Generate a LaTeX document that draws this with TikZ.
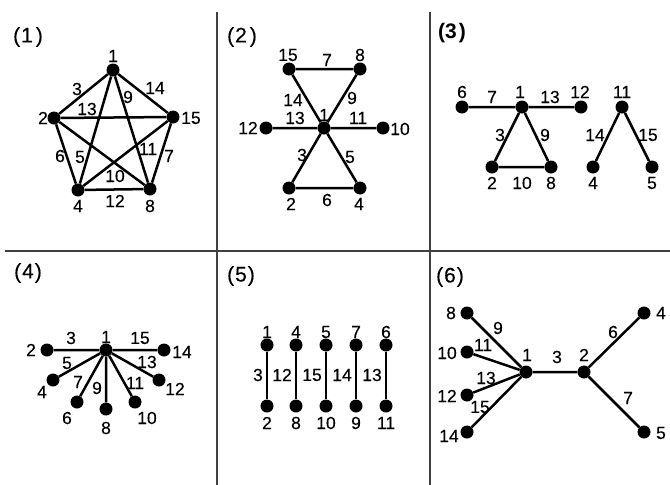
\documentclass[tikz,border=0pt]{standalone}
\usepackage{fontspec}
\setmainfont{Liberation Sans}
\newfontfamily\lblfont[FakeBold=0.3]{Liberation Sans}
\begin{document}
\begin{tikzpicture}[x=1pt,y=-1pt,
  dot/.style={circle,fill=black,inner sep=0pt,minimum size=13pt},
  lnk/.style={line width=2.5pt,black},
  lbl/.style={font=\lblfont\fontsize{17.5}{17.5}\selectfont,inner sep=0pt},
  panel/.style={font=\lblfont\fontsize{21}{21}\selectfont,inner sep=0pt},
  grid/.style={line width=2pt,black!75}]
\useasboundingbox (0,0) rectangle (670,485);
% grid
\coordinate (v1t) at (217,12); \coordinate (v1b) at (217,485);
\coordinate (v2t) at (430,12); \coordinate (v2b) at (430,485);
\coordinate (hl) at (5,251); \coordinate (hr) at (670,251);
\draw[grid] (v1t) -- (v1b);
\draw[grid] (v2t) -- (v2b);
\draw[grid] (hl) -- (hr);
% panel titles
\node[panel] (t1) at (28,37) {(\kern1pt1\kern3pt)};
\node[panel] (t2) at (242,37) {(\kern1pt2\kern3pt)};
\node[panel,font=\fontsize{21}{21}\selectfont\bfseries] (t3) at (452,33) {(3\kern2pt)};
\node[panel] (t4) at (28,273) {(\kern1pt4\kern1pt)};
\node[panel] (t5) at (241,276) {(\kern1pt5\kern1pt)};
\node[panel] (t6) at (450,277) {(\kern1pt6\kern1pt)};

% ---------- panel 1 ----------
\node[dot] (a1) at (113,70) {};
\node[dot] (a2) at (54,118) {};
\node[dot] (a15) at (173,117) {};
\node[dot] (a4) at (78,190) {};
\node[dot] (a8) at (150,189) {};
\draw[lnk] (a1)--(a2) (a1)--(a15) (a1)--(a4) (a1)--(a8) (a2)--(a15)
  (a2)--(a4) (a2)--(a8) (a15)--(a4) (a15)--(a8) (a4)--(a8);
\node[lbl] (la1) at (113,56) {1};
\node[lbl] (la2) at (43,118) {2};
\node[lbl] (la15) at (191,118) {15};
\node[lbl] (la4) at (78,206) {4};
\node[lbl] (la8) at (150,206) {8};
\node[lbl] (ea3) at (77,89) {3};
\node[lbl] (ea13) at (87,109) {13};
\node[lbl] (ea9) at (128,97) {9};
\node[lbl] (ea14) at (155,88) {14};
\node[lbl] (ea6) at (60,156) {6};
\node[lbl] (ea5) at (80,157) {5};
\node[lbl] (ea11) at (148,149) {11};
\node[lbl] (ea7) at (169,156) {7};
\node[lbl] (ea10) at (115,176) {10};
\node[lbl] (ea12) at (115,201) {12};

% ---------- panel 2 ----------
\node[dot] (b15) at (289,69) {};
\node[dot] (b8) at (360,69) {};
\node[dot] (b12) at (266,128) {};
\node[dot] (b1) at (324,128) {};
\node[dot] (b10) at (383,128) {};
\node[dot] (b2) at (289,188) {};
\node[dot] (b4) at (360,188) {};
\draw[lnk] (b15)--(b8) (b15)--(b1) (b1)--(b4) (b8)--(b1) (b1)--(b2)
  (b12)--(b1) (b1)--(b10) (b2)--(b4);
\node[lbl] (lb15) at (288,55) {15};
\node[lbl] (lb8) at (360,55) {8};
\node[lbl] (eb7) at (327,60) {7};
\node[lbl] (eb14) at (293,100) {14};
\node[lbl] (eb9) at (352,98) {9};
\node[lbl] (eb13) at (295,118) {13};
\node[lbl] (lb1) at (324,115) {1};
\node[lbl] (eb11) at (358,118) {11};
\node[lbl] (lb12) at (248,128) {12};
\node[lbl] (lb10) at (400,129) {10};
\node[lbl] (eb3) at (302,155) {3};
\node[lbl] (eb5) at (350,157) {5};
\node[lbl] (lb2) at (291,204) {2};
\node[lbl] (eb6) at (327,200) {6};
\node[lbl] (lb4) at (359,204) {4};

% ---------- panel 3 ----------
\node[dot] (c6) at (462,107) {};
\node[dot] (c1) at (522,107) {};
\node[dot] (c12) at (581,107) {};
\node[dot] (c2) at (492,167) {};
\node[dot] (c8) at (551,167) {};
\node[dot] (c11) at (622,107) {};
\node[dot] (c4) at (593,167) {};
\node[dot] (c5) at (652,167) {};
\draw[lnk] (c6)--(c1) (c1)--(c12) (c1)--(c2) (c1)--(c8) (c2)--(c8)
  (c11)--(c4) (c11)--(c5);
\node[lbl] (lc6) at (462,92) {6};
\node[lbl] (ec7) at (492,97) {7};
\node[lbl] (lc1) at (520,92) {1};
\node[lbl] (ec13) at (550,97) {13};
\node[lbl] (lc12) at (580,92) {12};
\node[lbl] (lc11) at (622,92) {11};
\node[lbl] (ec3) at (500,135) {3};
\node[lbl] (ec9) at (545,135) {9};
\node[lbl] (ec14) at (595,135) {14};
\node[lbl] (ec15) at (648,135) {15};
\node[lbl] (lc2) at (492,183) {2};
\node[lbl] (ec10) at (522,183) {10};
\node[lbl] (lc8) at (551,183) {8};
\node[lbl] (lc4) at (593,183) {4};
\node[lbl] (lc5) at (652,183) {5};

% ---------- panel 4 ----------
\node[dot] (d2) at (47,350) {};
\node[dot] (d1) at (106,350) {};
\node[dot] (d14) at (164,350) {};
\node[dot] (d4) at (53,380) {};
\node[dot] (d12) at (159,380) {};
\node[dot] (d6) at (77,402) {};
\node[dot] (d10) at (135,402) {};
\node[dot] (d8) at (106,409) {};
\draw[lnk] (d2)--(d1) (d1)--(d14) (d1)--(d4) (d1)--(d12) (d1)--(d6)
  (d1)--(d10) (d1)--(d8);
\node[lbl] (ld2) at (31,350) {2};
\node[lbl] (ed3) at (71,338) {3};
\node[lbl] (ld1) at (106,337) {1};
\node[lbl] (ed15) at (140,338) {15};
\node[lbl] (ld14) at (182,352) {14};
\node[lbl] (ed5) at (67,363) {5};
\node[lbl] (ed13) at (147,362) {13};
\node[lbl] (ld4) at (42,392) {4};
\node[lbl] (ed7) at (78,382) {7};
\node[lbl] (ed9) at (97,388) {9};
\node[lbl] (ed11) at (135,383) {11};
\node[lbl] (ld12) at (175,389) {12};
\node[lbl] (ld6) at (67,418) {6};
\node[lbl] (ld10) at (147,418) {10};
\node[lbl] (ld8) at (106,428) {8};

% ---------- panel 5 ----------
\foreach \x/\t/\b/\e [count=\i] in {267/1/2/3, 296/4/8/12, 326/5/10/15, 356/7/9/14, 386/6/11/13}{
  \node[dot] (ft\i) at (\x,345) {};
  \node[dot] (fb\i) at (\x,406) {};
  \draw[lnk] (ft\i)--(fb\i);
  \node[lbl] (lft\i) at (\x,332) {\t};
  \node[lbl] (lfb\i) at (\x,423) {\b};
  \node[lbl,anchor=east] (ef\i) at (\x-4,375) {\e};
}

% ---------- panel 6 ----------
\node[dot] (g8) at (467,313) {};
\node[dot] (g10) at (467,352) {};
\node[dot] (g12) at (467,395) {};
\node[dot] (g14) at (467,432) {};
\node[dot] (g1) at (526,372) {};
\node[dot] (g2) at (584,372) {};
\node[dot] (g4) at (644,313) {};
\node[dot] (g5) at (644,432) {};
\draw[lnk] (g8)--(g1) (g10)--(g1) (g12)--(g1) (g14)--(g1) (g1)--(g2)
  (g2)--(g4) (g2)--(g5);
\node[lbl] (lg8) at (451,313) {8};
\node[lbl] (lg10) at (447,353) {10};
\node[lbl] (lg12) at (447,396) {12};
\node[lbl] (lg14) at (449,436) {14};
\node[lbl] (eg9) at (498,328) {9};
\node[lbl] (eg11) at (483,345) {11};
\node[lbl] (eg13) at (486,378) {13};
\node[lbl] (eg15) at (480,407) {15};
\node[lbl] (lg1) at (527,355) {1};
\node[lbl] (eg3) at (557,357) {3};
\node[lbl] (lg2) at (584,355) {2};
\node[lbl] (eg6) at (613,332) {6};
\node[lbl] (eg7) at (628,398) {7};
\node[lbl] (lg4) at (661,313) {4};
\node[lbl] (lg5) at (661,433) {5};
\end{tikzpicture}
\end{document}
